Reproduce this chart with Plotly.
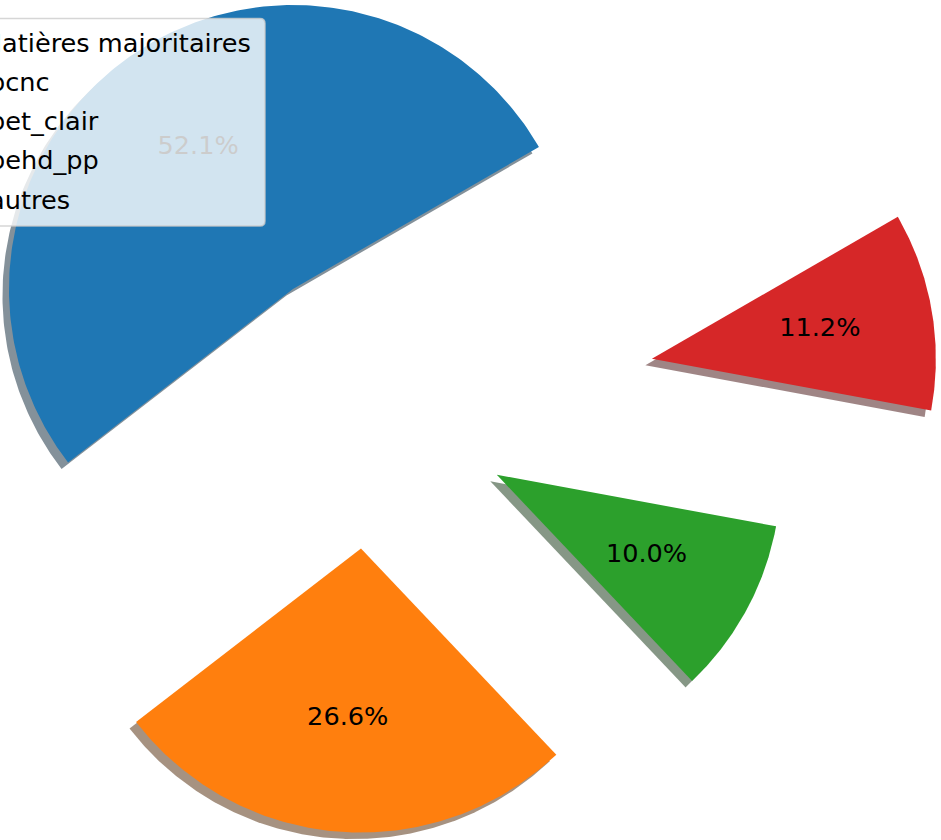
import numpy as np
import plotly.graph_objects as go

# ---- data ----
categories = ["pcnc", "pet_clair", "pehd_pp", "autres"]
values = [52.12, 26.62, 10.02, 11.24]
legend_title = "Matières majoritaires"

# ---- style / layout parameters ----
colors = ["#1f77b4", "#ff7f0e", "#2ca02c", "#d62728"]
explode = [0.5, 0.5, 0.5, 1.0]
W, H = 941, 840
R_PX = 284.0            # pie radius in pixels
CX, CY = 372.0, 407.0   # pie centre in page pixels (y downward)
START = 30.0            # start angle (deg), counter-clockwise
PCTDIST = 0.6
SHADOW = 6.5 / R_PX
FONT = "DejaVu Sans"
FS = 25.6


def hex_rgb(h):
    h = h.lstrip("#")
    return tuple(int(h[i:i + 2], 16) for i in (0, 2, 4))


total = float(sum(values))
fracs = np.array(values, dtype=float) / total
theta = START + 360.0 * np.concatenate([[0.0], np.cumsum(fracs)])

fig = go.Figure()

shapes_xy = []
label_x, label_y, label_t = [], [], []
for i, v in enumerate(values):
    t1, t2 = theta[i], theta[i + 1]
    mid = np.radians((t1 + t2) / 2.0)
    ax0 = explode[i] * np.cos(mid)
    ay0 = explode[i] * np.sin(mid)
    ang = np.radians(np.linspace(t1, t2, 240))
    xs = np.concatenate([[ax0], ax0 + np.cos(ang), [ax0]])
    ys = np.concatenate([[ay0], ay0 + np.sin(ang), [ay0]])
    shapes_xy.append((xs, ys))
    label_x.append(ax0 + PCTDIST * np.cos(mid))
    label_y.append(ay0 + PCTDIST * np.sin(mid))
    label_t.append(f"{fracs[i] * 100:.1f}%")

# shadows (below all wedges)
for i, (xs, ys) in enumerate(shapes_xy):
    r, g, b = hex_rgb(colors[i])
    fig.add_trace(go.Scatter(
        x=xs - SHADOW, y=ys - SHADOW, mode="lines", fill="toself",
        fillcolor=f"rgba({0.3*r:.1f},{0.3*g:.1f},{0.3*b:.1f},0.5)",
        line=dict(width=0), hoverinfo="skip", showlegend=False))

# wedges
for i, (xs, ys) in enumerate(shapes_xy):
    fig.add_trace(go.Scatter(
        x=xs, y=ys, mode="lines", fill="toself", fillcolor=colors[i],
        line=dict(width=0), name=categories[i], hoverinfo="skip",
        showlegend=False))

# percentage labels
fig.add_trace(go.Scatter(
    x=label_x, y=label_y, mode="text", text=label_t,
    textposition="middle center",
    textfont=dict(family=FONT, size=FS, color="black"),
    hoverinfo="skip", showlegend=False))


# ---- legend (partly outside the canvas, as in the reference) ----
def PX(x):
    return x / W


def PY(y):
    return 1.0 - y / H


L, Rt, T, B, rad = -45.0, 265.0, 18.5, 226.0, 5.0
path = (
    f"M {PX(L+rad)},{PY(T)} L {PX(Rt-rad)},{PY(T)} "
    f"Q {PX(Rt)},{PY(T)} {PX(Rt)},{PY(T+rad)} "
    f"L {PX(Rt)},{PY(B-rad)} Q {PX(Rt)},{PY(B)} {PX(Rt-rad)},{PY(B)} "
    f"L {PX(L+rad)},{PY(B)} Q {PX(L)},{PY(B)} {PX(L)},{PY(B-rad)} "
    f"L {PX(L)},{PY(T+rad)} Q {PX(L)},{PY(T)} {PX(L+rad)},{PY(T)} Z"
)
fig.add_shape(type="path", path=path, xref="paper", yref="paper",
              fillcolor="rgba(255,255,255,0.8)",
              line=dict(color="rgba(204,204,204,0.8)", width=1.5),
              layer="above")

annots = []
baseline_off = 0.346 * FS
annots.append(dict(
    x=PX(-22.0), y=PY(51.5 - baseline_off), xref="paper", yref="paper",
    text=legend_title, showarrow=False, xanchor="left", yanchor="middle",
    font=dict(family=FONT, size=FS, color="black")))
for i, cat in enumerate(categories):
    annots.append(dict(
        x=PX(-13.0), y=PY(90.5 + 39.3 * i - baseline_off),
        xref="paper", yref="paper", text=cat, showarrow=False,
        xanchor="left", yanchor="middle",
        font=dict(family=FONT, size=FS, color="black")))

fig.update_layout(
    width=W, height=H, autosize=False,
    margin=dict(l=0, r=0, t=0, b=0, pad=0),
    paper_bgcolor="white", plot_bgcolor="white",
    showlegend=False,
    xaxis=dict(range=[-CX / R_PX, (W - CX) / R_PX], visible=False,
               showgrid=False, zeroline=False, fixedrange=True),
    yaxis=dict(range=[-(H - CY) / R_PX, CY / R_PX], visible=False,
               showgrid=False, zeroline=False, fixedrange=True),
    annotations=annots,
)

fig.write_html("out.html", include_plotlyjs=True,
               post_script="document.body.style.margin='0';",
               config={"displayModeBar": False})
